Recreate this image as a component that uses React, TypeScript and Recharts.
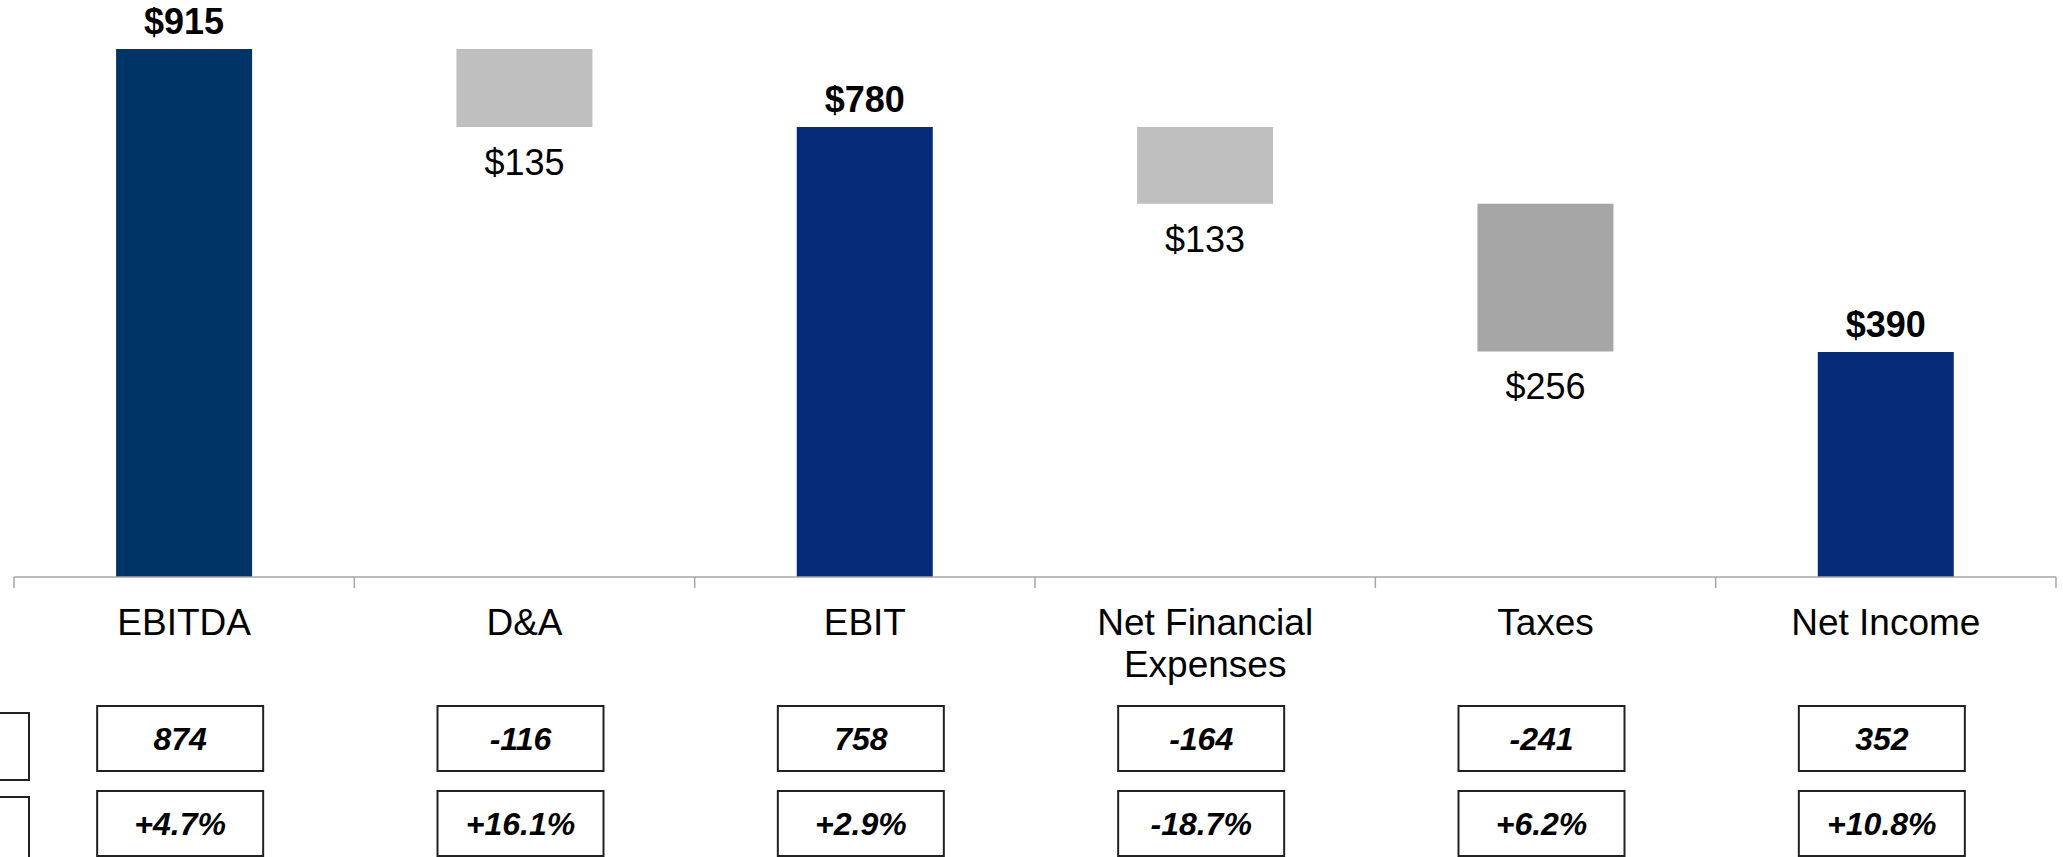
import React from 'react';
import { BarChart, Bar, XAxis, YAxis, Cell, LabelList } from 'recharts';

const categories = ['EBITDA', 'D&A', 'EBIT', 'Net Financial Expenses', 'Taxes', 'Net Income'];
const categoryLines = [['EBITDA'], ['D&A'], ['EBIT'], ['Net Financial', 'Expenses'], ['Taxes'], ['Net Income']];
const amounts = [915, 135, 780, 133, 256, 390];
const kinds = ['total', 'decrease', 'total', 'decrease', 'decrease', 'total'];
const ltmValues = [874, -116, 758, -164, -241, 352];
const growthPct = [4.7, 16.1, 2.9, -18.7, 6.2, 10.8];

const BAR_COLORS = ['#003366', '#BFBFBF', '#062A7A', '#BFBFBF', '#A6A6A6', '#062A7A'];

const CHART_W = 2063;
const CHART_H = 857;
const MARGIN = { top: 0, right: 7, left: 14, bottom: 0 };
const AXIS_H = 280;
const PLOT_W = CHART_W - MARGIN.left - MARGIN.right;
const FONT = '"Liberation Sans", Arial, Helvetica, sans-serif';

// running total -> invisible base + visible step
let running = 0;
const data = categories.map((name, i) => {
  const amt = amounts[i];
  let base = 0;
  if (kinds[i] === 'total') {
    running = amt;
  } else {
    running = running - amt;
    base = running;
  }
  return { name, base, value: amt };
});

const fmtPct = (v: number) => (v > 0 ? '+' : '') + v.toFixed(1) + '%';

const CategoryTick = (props: any) => {
  const { x, y, index } = props;
  const band = PLOT_W / categories.length;
  const lines = categoryLines[index] || [];
  const boxW = 166;
  const boxH = 65;
  const last = index === categories.length - 1;
  return (
    <g fontFamily={FONT}>
      <line x1={x - band / 2} x2={x - band / 2} y1={y} y2={y + 11} stroke="#A6A6A6" strokeWidth={1.5} />
      {last && (
        <line x1={x + band / 2} x2={x + band / 2} y1={y} y2={y + 11} stroke="#A6A6A6" strokeWidth={1.5} />
      )}
      <text x={x} y={y + 58} textAnchor="middle" fontSize={37} fill="#000">
        {lines.map((l: string, i: number) => (
          <tspan key={i} x={x} dy={i === 0 ? 0 : 42}>
            {l}
          </tspan>
        ))}
      </text>
      <rect x={x - 4 - boxW / 2} y={y + 129} width={boxW} height={boxH} fill="#fff" stroke="#222" strokeWidth={2} />
      <text x={x - 4} y={y + 173} textAnchor="middle" fontSize={32} fontWeight="bold" fontStyle="italic" fill="#000">
        {ltmValues[index]}
      </text>
      <rect x={x - 4 - boxW / 2} y={y + 214} width={boxW} height={boxH} fill="#fff" stroke="#222" strokeWidth={2} />
      <text x={x - 4} y={y + 258} textAnchor="middle" fontSize={32} fontWeight="bold" fontStyle="italic" fill="#000">
        {fmtPct(growthPct[index])}
      </text>
    </g>
  );
};

const renderValueLabel = (props: any) => {
  const { x, y, width, height, index } = props;
  const cx = Number(x) + Number(width) / 2;
  const label = '$' + amounts[index];
  if (kinds[index] === 'total') {
    return (
      <text x={cx} y={Number(y) - 15} textAnchor="middle" fontSize={36} fontWeight="bold" fill="#000" fontFamily={FONT}>
        {label}
      </text>
    );
  }
  return (
    <text x={cx} y={Number(y) + Number(height) + 48} textAnchor="middle" fontSize={36} fill="#000" fontFamily={FONT}>
      {label}
    </text>
  );
};

export default function App() {
  return (
    <div style={{ position: 'fixed', left: 0, top: 0, width: CHART_W, height: CHART_H, background: '#fff', overflow: 'hidden' }}>
      <BarChart width={CHART_W} height={CHART_H} data={data} margin={MARGIN} barCategoryGap="30%">
        <XAxis
          dataKey="name"
          height={AXIS_H}
          interval={0}
          tickLine={false}
          tickSize={0}
          tickMargin={0}
          axisLine={{ stroke: '#A6A6A6', strokeWidth: 1.5 }}
          tick={<CategoryTick />}
        />
        <YAxis hide width={0} domain={[0, 1000]} />
        <Bar dataKey="base" stackId="w" fill="transparent" isAnimationActive={false} />
        <Bar dataKey="value" stackId="w" isAnimationActive={false}>
          {data.map((d, i) => (
            <Cell key={d.name} fill={BAR_COLORS[i]} />
          ))}
          <LabelList dataKey="value" content={renderValueLabel} />
        </Bar>
      </BarChart>
      {/* cut-off row header boxes on the left edge */}
      <div style={{ position: 'absolute', left: -150, top: 712, width: 176, height: 65, border: '2px solid #222' }} />
      <div style={{ position: 'absolute', left: -150, top: 796, width: 176, height: 65, border: '2px solid #222' }} />
    </div>
  );
}
